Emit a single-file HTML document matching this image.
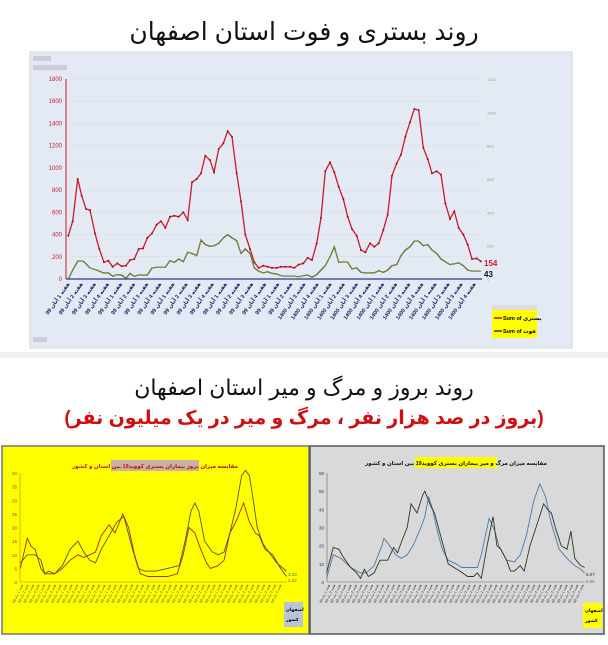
<!DOCTYPE html>
<html><head><meta charset="utf-8">
<style>
body{margin:0;width:608px;height:640px;background:#fff;overflow:hidden;font-family:"Liberation Sans","Noto Sans CJK SC",sans-serif;}
</style></head><body>
<svg id="s" width="608" height="640" xmlns="http://www.w3.org/2000/svg" font-family="Liberation Sans, DejaVu Sans, sans-serif">
<rect width="608" height="640" fill="#fff"/>
<text x="304" y="40" font-size="25" text-anchor="middle" fill="#111">روند بستری و فوت استان اصفهان</text>
<rect x="30" y="52" width="542" height="296" fill="#e4eaf3" stroke="#d0d6e0"/>
<rect x="0" y="352" width="608" height="6" fill="#f0f0f0"/>
<text x="304" y="395" font-size="22" text-anchor="middle" fill="#111">روند بروز و مرگ و میر استان اصفهان</text>
<text x="304" y="424" font-size="19" font-weight="bold" text-anchor="middle" fill="#d01010">(بروز در صد هزار نفر ، مرگ و میر در یک میلیون نفر)</text>
<rect x="2" y="446" width="307" height="188" fill="#ffff00" stroke="#777" stroke-width="1.5"/>
<rect x="310" y="446" width="294" height="188" fill="#d9d9d9" stroke="#555" stroke-width="1.5"/>
<g id="g"></g>
</svg>
<script>
var g=document.getElementById('g'),h='';
function pl(pts,col,w){h+='<polyline fill="none" stroke="'+col+'" stroke-width="'+w+'" points="'+pts.join(' ')+'"/>';}
function conv(a,fx,fy){var r=[];for(var i=0;i<a.length;i+=2)r.push(fx(a[i]).toFixed(1)+','+fy(a[i+1]).toFixed(1));return r;}
// top chart
var red=[115,390,128,520,143,900,155,750,168,630,180,620,195,410,208,270,222,150,235,165,248,110,262,140,275,115,288,120,300,170,313,180,326,270,339,275,352,370,366,410,380,490,393,520,406,460,420,560,433,570,446,560,460,600,473,530,486,870,500,900,513,950,526,1110,540,1070,552,960,566,1170,580,1220,593,1330,606,1280,620,950,633,700,646,400,660,270,673,150,686,100,700,120,713,110,726,100,740,100,753,110,766,110,780,110,793,100,806,130,820,140,833,190,846,170,860,320,873,550,886,970,900,1050,913,960,926,830,940,720,953,560,966,450,980,390,993,260,1006,240,1020,320,1033,290,1046,320,1060,440,1073,580,1086,930,1100,1040,1113,1120,1126,1280,1140,1410,1153,1530,1166,1520,1180,1180,1193,1080,1206,950,1220,970,1233,940,1246,680,1260,540,1273,610,1286,460,1300,400,1313,310,1326,180,1340,185,1352,160];
var grn=[115,0,128,80,143,160,160,160,180,100,200,80,220,55,235,55,248,25,262,40,275,35,288,5,300,50,313,25,326,35,352,35,366,100,380,105,406,105,420,165,433,150,446,180,460,155,473,240,486,230,500,210,513,350,526,310,540,295,552,300,566,320,580,370,593,400,606,370,620,345,633,230,646,270,660,230,673,100,686,70,700,55,713,65,726,50,740,45,753,30,766,25,793,25,806,20,820,30,833,35,846,15,860,40,873,80,886,120,900,200,913,290,926,150,940,155,953,150,966,90,980,100,993,60,1006,55,1033,55,1046,75,1060,60,1073,80,1086,120,1100,130,1113,210,1126,260,1140,290,1153,340,1166,340,1180,300,1193,310,1206,260,1220,230,1233,180,1246,155,1260,130,1286,145,1300,120,1313,80,1326,70,1352,70];
var fx=function(x){return 30+x/3},fy=function(v){return 279-v*200/1800};
for(var i=0;i<=9;i++){var y=279-i*22.22;h+='<line x1="66" x2="482" y1="'+y+'" y2="'+y+'" stroke="#d6dce6" stroke-width="0.5"/>';h+='<text x="62" y="'+(y+2)+'" font-size="6" fill="#c0202a" text-anchor="end">'+(i*200)+'</text>';}
for(var i=0;i<=6;i++){var y=279-i*33.33;h+='<text x="487" y="'+(y+2)+'" font-size="4" fill="#999">'+(i*200)+'</text>';}
h+='<line x1="66" y1="79" x2="66" y2="279" stroke="#c0202a" stroke-width="1"/>';
h+='<line x1="66" y1="279" x2="482" y2="279" stroke="#2a3a8a" stroke-width="1.2"/>';
pl(conv(grn,fx,fy),'#2d3a0a',1.2);pl(conv(grn,fx,fy),'#b7c43a',0.5);
pl(conv(red,fx,fy),'#cc1a2a',1.3);
for(var i=0;i<red.length;i+=2)h+='<circle cx="'+fx(red[i]).toFixed(1)+'" cy="'+fy(red[i+1]).toFixed(1)+'" r="1" fill="#a01020"/>';
h+='<text x="484" y="266" font-size="8" font-weight="bold" fill="#cc1a2a">154</text><text x="484" y="277" font-size="8" font-weight="bold" fill="#112">43</text>';
for(var i=0;i<32;i++){var x=70+i*13.1;h+='<text transform="translate('+x+',284) rotate(-55)" font-size="5.5" font-weight="bold" fill="#1c2a6a" text-anchor="end">هفته '+(i%4+1)+' آبان '+(i<18?'99':'1400')+'</text>';}
h+='<rect x="492" y="305" width="45" height="33" fill="#ffff00"/><rect x="492" y="305" width="45" height="5" fill="#ddd"/>';
h+='<line x1="494" y1="318" x2="502" y2="318" stroke="#c01020" stroke-width="1.5"/><text x="503" y="320" font-size="5.5" font-weight="bold">Sum of بستری</text>';
h+='<line x1="494" y1="331" x2="502" y2="331" stroke="#2d3a0a" stroke-width="1.5"/><text x="503" y="333" font-size="5.5" font-weight="bold">Sum of فوت</text>';
h+='<rect x="33" y="56" width="18" height="5" fill="#ccd"/><rect x="33" y="65" width="34" height="5" fill="#ccd"/><rect x="33" y="337" width="14" height="5" fill="#ccd"/>';
// bottom left
var sx=function(x){return x/2.566};
var la=[52,7,70,10,90,10,105,8,115,3,125,4,140,3,160,6,180,12,200,15,215,11,230,8,245,7,260,12,280,17,300,22,318,24,340,12,355,5,370,4,400,4,430,5,460,6,475,15,490,26,500,29,510,26,525,15,545,11,560,10,575,11,590,18,605,27,620,39,630,41,640,39,650,30,660,20,675,14,690,11,710,7,735,4];
var lb=[52,5,70,16,80,13,90,12,105,5,115,3,125,3,140,3,160,5,180,8,200,10,215,9,230,10,245,11,260,17,280,21,295,18,315,25,330,20,345,10,360,3,380,2,430,2,455,3,470,10,485,20,500,18,515,12,530,7,540,5,560,6,575,8,590,18,605,22,625,29,640,22,655,18,665,17,680,12,700,10,720,5,735,2];
var fy1=function(v){return 582-v*109/40};
for(var i=0;i<=8;i++)h+='<text x="17" y="'+(fy1(i*5)+2)+'" font-size="4.5" fill="#c03000" text-anchor="end">'+(i*5)+'</text>';
h+='<line x1="20" y1="473" x2="20" y2="582" stroke="#c08000" stroke-width="0.6"/><line x1="20" y1="582" x2="287" y2="582" stroke="#c08000" stroke-width="0.6"/>';
pl(conv(la,sx,fy1),'#555533',0.9);pl(conv(lb,sx,fy1),'#a03010',0.9);
h+='<rect x="111" y="460" width="88" height="11" fill="#c9b0a8"/><text x="155" y="468" font-size="5.5" font-weight="bold" fill="#c01010" text-anchor="middle">مقایسه میزان بروز بیماران بستری کووید19 بین استان و کشور</text>';
h+='<text x="288" y="576" font-size="4.5" fill="#2a8a2a">3.33</text><text x="288" y="582" font-size="4.5" fill="#c03000">2.22</text>';
h+='<rect x="284" y="602" width="19" height="25" fill="#b8c4d8"/><text x="286" y="611" font-size="4.5" font-weight="bold">اصفهان</text><text x="286" y="621" font-size="4.5" font-weight="bold">کشور</text>';
for(var i=0;i<48;i++){var x=23+i*5.5;h+='<text transform="translate('+x+',585) rotate(-65)" font-size="3.5" fill="#553" text-anchor="end">هفته '+(i%4+1)+' ماه 99</text>';}
// bottom right
var ra=[838,5,855,19,870,18,880,14,900,8,915,5,925,2,935,7,945,3,960,5,975,12,995,12,1010,19,1020,16,1030,22,1045,30,1055,43,1070,38,1085,48,1090,50,1105,42,1115,38,1125,30,1135,22,1150,10,1165,8,1180,6,1200,3,1215,3,1225,5,1235,2,1250,20,1265,36,1275,20,1285,18,1300,12,1310,6,1320,6,1335,9,1345,6,1360,20,1380,33,1395,43,1405,40,1415,38,1425,30,1440,20,1455,18,1465,28,1475,13,1490,9,1500,8];
var rb=[838,2,855,15,875,13,900,8,925,5,940,5,960,9,980,20,985,24,1000,20,1015,15,1030,13,1045,15,1060,20,1080,30,1090,36,1100,47,1110,40,1120,30,1135,18,1150,12,1170,10,1185,8,1200,8,1225,8,1235,15,1255,35,1270,28,1280,20,1300,12,1320,11,1335,15,1350,25,1370,45,1385,54,1400,47,1415,32,1435,18,1455,13,1475,9,1490,7,1500,5];
var fy2=function(v){return 582-v*109/60};
for(var i=0;i<=6;i++)h+='<text x="324" y="'+(fy2(i*10)+2)+'" font-size="4.5" fill="#333" text-anchor="end">'+(i*10)+'</text>';
h+='<line x1="327" y1="473" x2="327" y2="582" stroke="#666" stroke-width="0.6"/><line x1="327" y1="582" x2="585" y2="582" stroke="#666" stroke-width="0.6"/>';
pl(conv(rb,sx,fy2),'#4a7ab0',0.9);pl(conv(ra,sx,fy2),'#333322',0.9);
h+='<rect x="415" y="457" width="82" height="11" fill="#ffff00"/><text x="456" y="465" font-size="5.5" font-weight="bold" fill="#111" text-anchor="middle">مقایسه میزان مرگ و میر بیماران بستری کووید19 بین استان و کشور</text>';
h+='<text x="586" y="576" font-size="4.5" fill="#333">8.07</text><text x="586" y="583" font-size="4.5" fill="#4a7ab0">5.55</text>';
h+='<rect x="583" y="603" width="19" height="25" fill="#ffff00"/><text x="585" y="612" font-size="4.5" font-weight="bold">اصفهان</text><text x="585" y="622" font-size="4.5" font-weight="bold">کشور</text>';
for(var i=0;i<48;i++){var x=330+i*5.4;h+='<text transform="translate('+x+',585) rotate(-65)" font-size="3.5" fill="#333" text-anchor="end">هفته '+(i%4+1)+' ماه 99</text>';}
g.innerHTML=h;
</script>
</body></html>
